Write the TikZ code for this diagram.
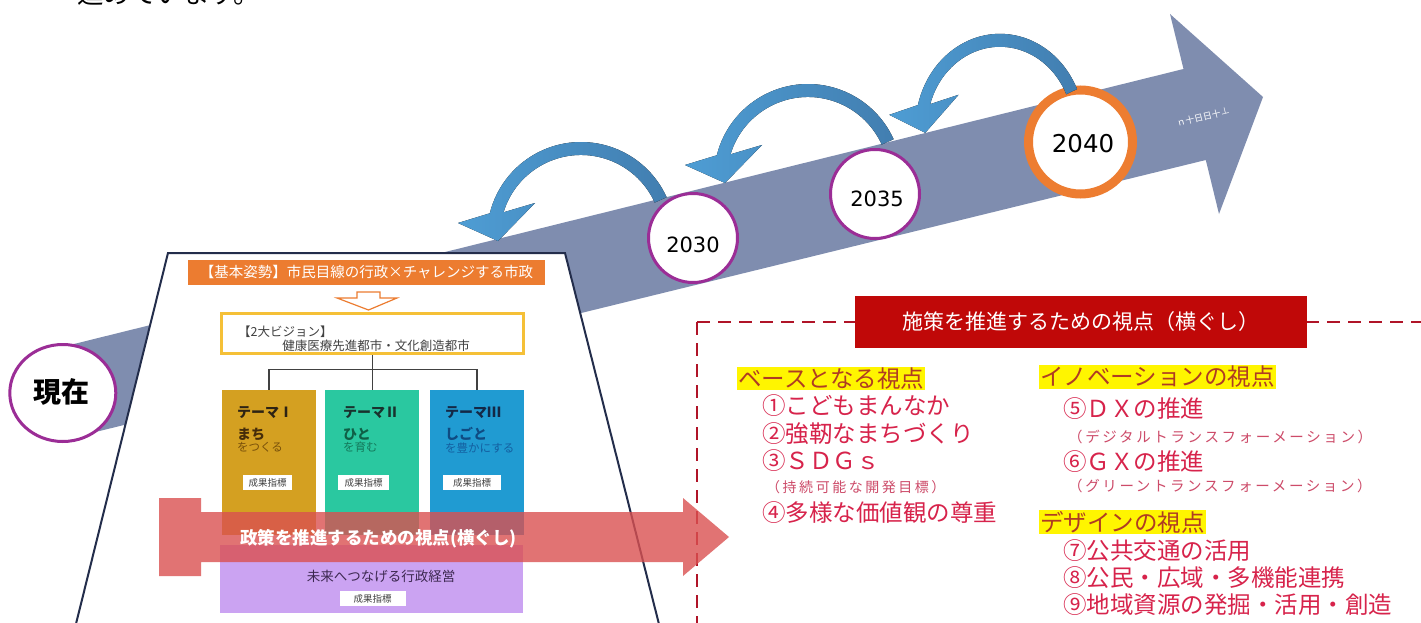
\documentclass[tikz,border=0pt]{standalone}
\usepackage{fontspec}
\usetikzlibrary{shapes.geometric}
\newfontfamily\jp{Noto Sans CJK JP}
\newfontfamily\jpls[LetterSpace=18]{Noto Sans CJK JP}
\newfontfamily\dvs{DejaVu Sans}
\newcommand\setfs[1]{\fontsize{#1}{#1}\selectfont}
\definecolor{bigarrow}{RGB}{127,141,175}
\definecolor{purp}{RGB}{155,45,150}
\definecolor{orng}{RGB}{237,125,49}
\definecolor{arrlight}{RGB}{78,157,212}
\definecolor{arrdark}{RGB}{66,126,176}
\definecolor{navy}{RGB}{35,45,75}
\definecolor{banner}{RGB}{236,124,48}
\definecolor{gold}{RGB}{245,192,55}
\definecolor{themeI}{RGB}{212,160,33}
\definecolor{themeII}{RGB}{42,200,160}
\definecolor{themeIII}{RGB}{32,155,210}
\definecolor{lav}{RGB}{203,163,242}
\definecolor{pinkred}{RGB}{218,80,80}
\definecolor{dashred}{RGB}{176,20,40}
\definecolor{titlered}{RGB}{192,8,8}
\definecolor{hdtext}{RGB}{175,60,35}
\definecolor{itemtext}{RGB}{215,35,75}
\definecolor{subtext}{RGB}{205,75,105}
\definecolor{hilite}{RGB}{255,245,0}
\definecolor{dgray}{RGB}{65,65,65}
\definecolor{tIa}{RGB}{45,35,20}
\definecolor{tIb}{RGB}{70,45,10}
\definecolor{tIc}{RGB}{120,80,10}
\definecolor{tIIa}{RGB}{25,50,45}
\definecolor{tIIb}{RGB}{15,95,70}
\definecolor{tIIc}{RGB}{20,120,90}
\definecolor{tIIIa}{RGB}{20,40,70}
\definecolor{tIIIb}{RGB}{15,75,130}
\definecolor{tIIIc}{RGB}{20,95,160}
\definecolor{mgmttext}{RGB}{60,40,80}
\tikzset{
  curvarrow/.pic={
    \fill[left color=arrlight, right color=arrdark]
      (0,0) arc[start angle=-24.4, end angle=-166, radius=94]
      -- (-208.6,25.8) -- (-168.6,43.8) -- (-131.6,5.8) -- (-163.1,15.1)
      arc[start angle=-163, end angle=-24.4, radius=81] -- cycle;
  }
}
\begin{document}
\begin{tikzpicture}[x=1pt,y=-1pt,
  yearc/.style={circle, draw=purp, line width=3pt, fill=white, inner sep=0pt, minimum size=89pt},
  yeart/.style={font=\dvs\setfs{21}, text=black, inner sep=0pt},
  themebox/.style={minimum width=94pt, minimum height=145pt, inner sep=0pt},
  thtitle/.style={anchor=west, inner sep=0pt, font=\jp\setfs{14}\bfseries},
  thword/.style={anchor=west, inner sep=0pt, font=\jp\setfs{14}\bfseries},
  thsub/.style={anchor=west, inner sep=0pt, font=\jp\setfs{11.5}},
  kpi/.style={fill=white, minimum height=15pt, inner sep=0pt, font=\jp\setfs{9.5}, text=dgray},
  hdr/.style={anchor=west, fill=hilite, inner sep=1pt, font=\jp\setfs{23.5}, text=hdtext},
  item/.style={anchor=west, inner sep=0pt, font=\jp\setfs{23.5}, text=itemtext},
  subitem/.style={anchor=west, inner sep=0pt, font=\jpls\setfs{14.5}, text=subtext},
  tree/.style={draw=dgray, line width=1.3pt},
  dashbox/.style={draw=dashred, line width=2.8pt, dash pattern=on 13pt off 8pt}
]
\useasboundingbox (0,0) rectangle (1421,623);
\clip (0,0) rectangle (1421,623);
\fill[white] (0,0) rectangle (1421,623);

% text cut at the top
\node[font=\jp\setfs{26.5}, anchor=base west, inner sep=0pt] (toptext) at (77,4) {進めています。};

% big timeline arrow
\fill[bigarrow] (55,348.7) -- (1183.5,69) -- (1170,14) -- (1263,97) -- (1219,214) -- (1205.8,160) -- (55,441.9) -- cycle;
\node[rotate=14, text=white, font=\jp\setfs{9}, inner sep=0pt] (arrtext) at (1203,117) {ｎ十日日十⊥};

% year circles
\node[yearc] (c2030) at (693,238) {};
\node[yeart] (t2030) at (693,244.5) {2030};
\node[yearc] (c2035) at (875,194) {};
\node[yeart] (t2035) at (877,198.5) {2035};
\node[circle, draw=orng, line width=9pt, fill=white, minimum size=104pt, inner sep=0pt] (c2040) at (1080.5,142) {};
\node[font=\dvs\setfs{24.5}, inner sep=0pt] (t2040) at (1083,144) {2040};

% curved arrows
\pic (arcA) at (666.6,197.2) {curvarrow};
\pic (arcB) at (893.6,139.2) {curvarrow};
\pic[xscale=0.9] (arcC) at (1077,89) {curvarrow};

% now
\node[ellipse, draw=purp, line width=3pt, fill=white, minimum width=106pt, minimum height=97pt, inner sep=0pt] (now) at (62.8,393) {};
\node[font=\jp\setfs{28}\bfseries, inner sep=0pt] (nowt) at (61,392) {現在};

% trapezoid
\filldraw[fill=white, draw=navy, line width=2pt] (168,253) -- (565,253) -- (663,640) -- (72,640) -- cycle;

% banner
\node[fill=banner, minimum width=357pt, minimum height=25pt, inner sep=0pt, text=white, font=\jp\setfs{14.5}] (basic) at (366.5,272.5) {【基本姿勢】市民目線の行政×チャレンジする市政};
\filldraw[fill=white, draw=banner, line width=1.2pt] (357,292) -- (380,292) -- (380,298) -- (397,298) -- (368.5,310) -- (337,298) -- (357,298) -- cycle;

% vision
\node[draw=gold, line width=3pt, fill=white, minimum width=302pt, minimum height=40pt, inner sep=0pt] (vision) at (372.5,333.3) {};
\node[anchor=west, font=\jp\setfs{12.5}, text=dgray, inner sep=0pt] (vis1) at (238,332) {【2大ビジョン】};
\node[font=\jp\setfs{12.5}, text=dgray, inner sep=0pt] (vis2) at (376,346) {健康医療先進都市・文化創造都市};

% themes
\node[themebox, fill=themeI] (th1) at (268.9,462.5) {};
\node[themebox, fill=themeII] (th2) at (372.2,462.5) {};
\node[themebox, fill=themeIII] (th3) at (477,462.5) {};
\coordinate (branch) at (372.5,369.5);
\draw[tree] (vision.south) -- (branch);
\draw[tree] (th1.north) |- (branch) -| (th3.north);
\draw[tree] (th2.north |- branch) -- (th2.north);

\node[thtitle, text=tIa] (th1a) at (237,413) {テーマⅠ};
\node[thword, text=tIb] (th1b) at (237,434) {まち};
\node[thsub, text=tIc] (th1c) at (237,447.5) {をつくる};
\node[thtitle, text=tIIa] (th2a) at (343,413) {テーマⅡ};
\node[thword, text=tIIb] (th2b) at (343,434) {ひと};
\node[thsub, text=tIIc] (th2c) at (343,447.5) {を育む};
\node[thtitle, text=tIIIa] (th3a) at (445,413) {テーマⅢ};
\node[thword, text=tIIIb] (th3b) at (445,434) {しごと};
\node[thsub, text=tIIIc] (th3c) at (445,447.5) {を豊かにする};

\node[kpi, minimum width=49pt] (k1) at (267.5,482.5) {成果指標};
\node[kpi, minimum width=51pt] (k2) at (363.5,482.5) {成果指標};
\node[kpi, minimum width=58pt] (k3) at (472,482.5) {成果指標};

% management
\node[fill=lav, minimum width=303pt, minimum height=68pt, inner sep=0pt] (mgmt) at (371.5,579) {};
\node[font=\jp\setfs{13.5}, text=mgmttext, inner sep=0pt] (mgmtt) at (381,576) {未来へつなげる行政経営};
\node[kpi, minimum width=66pt] (k4) at (372.5,598.5) {成果指標};

% dashed frame
\coordinate (dbc) at (697,322);
\coordinate (dbl) at (697,640);
\coordinate (dbr) at (1430,322);
\draw[dashbox] (dbc) -- (dbl);
\draw[dashbox] (dbc) -- (dbr);

% red cross arrow
\fill[pinkred, opacity=0.8] (159,498) -- (201,498) -- (201,512) -- (683,512) -- (683,498) -- (729,537) -- (683,576) -- (683,562) -- (201,562) -- (201,576) -- (159,576) -- cycle;
\node[text=white, font=\jp\setfs{17.5}\bfseries, inner sep=0pt] (policy) at (378.5,539) {政策を推進するための視点(横ぐし)};

% title
\node[fill=titlered, minimum width=452pt, minimum height=52pt, inner sep=0pt, text=white, font=\jp\setfs{21}] (title) at (1081,322) {施策を推進するための視点（横ぐし）};

% left column
\node[hdr] (h1) at (737,378.5) {ベースとなる視点};
\node[item] (i1) at (762,406) {①こどもまんなか};
\node[item] (i2) at (762,434) {②強靭なまちづくり};
\node[item] (i3) at (762,461) {③ＳＤＧｓ};
\node[subitem, font=\jpls\setfs{14}] (s3) at (766,487) {（持続可能な開発目標）};
\node[item] (i4) at (762,513) {④多様な価値観の尊重};

% right column
\node[hdr] (h2) at (1039,377) {イノベーションの視点};
\node[item] (i5) at (1063,409) {⑤ＤＸの推進};
\node[subitem] (s5) at (1068,437) {（デジタルトランスフォーメーション）};
\node[item] (i6) at (1063,462) {⑥ＧＸの推進};
\node[subitem] (s6) at (1068,486) {（グリーントランスフォーメーション）};
\node[hdr] (h3) at (1039,522) {デザインの視点};
\node[item] (i7) at (1063,551) {⑦公共交通の活用};
\node[item] (i8) at (1063,578) {⑧公民・広域・多機能連携};
\node[item] (i9) at (1063,605) {⑨地域資源の発掘・活用・創造};
\end{tikzpicture}
\end{document}
